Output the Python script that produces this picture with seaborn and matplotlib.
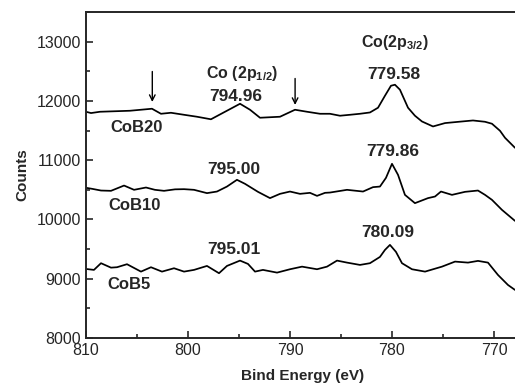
import matplotlib
matplotlib.use('Agg')
import matplotlib.pyplot as plt
from matplotlib.ticker import MultipleLocator
import numpy as np
import pandas as pd
import seaborn as sns

# datos (energia de ligadura, cuentas)
ev_cob20 = [810.0, 809.51, 808.63, 805.69, 803.53, 802.65, 801.67, 800.39, 799.12, 797.75,
            796.37, 794.90, 793.92, 792.94, 790.98, 789.51, 788.33, 787.06, 786.08, 785.10,
            784.12, 783.14, 782.16, 781.37, 780.69, 780.10, 779.71, 779.22, 778.43, 777.75,
            777.06, 775.98, 774.80, 773.14, 772.06, 770.88, 770.20, 769.41, 768.92, 767.94]
cts_cob20 = [11817, 11795, 11817, 11834, 11868, 11783, 11800, 11766, 11733, 11690,
             11817, 11952, 11851, 11716, 11733, 11851, 11817, 11783, 11783, 11750,
             11766, 11783, 11805, 11885, 12087, 12256, 12273, 12189, 11885, 11750,
             11653, 11569, 11626, 11653, 11670, 11648, 11615, 11496, 11378, 11209]

ev_cob10 = [810.0, 809.41, 808.53, 807.55, 806.27, 805.29, 804.12, 803.24, 802.35, 801.27,
            800.39, 799.41, 798.14, 797.16, 796.18, 795.20, 794.41, 793.14, 791.96, 790.98,
            790.0, 789.02, 788.04, 787.35, 786.57, 786.08, 784.41, 782.84, 781.86, 781.18,
            780.59, 780.0, 779.41, 778.73, 777.75, 776.47, 775.78, 775.20, 774.12, 772.84,
            771.57, 770.88, 770.20, 769.22, 767.94]
cts_cob10 = [10534, 10517, 10488, 10483, 10572, 10500, 10539, 10500, 10483, 10508,
             10511, 10500, 10444, 10471, 10555, 10669, 10601, 10466, 10360, 10432,
             10471, 10432, 10449, 10398, 10449, 10454, 10500, 10471, 10545, 10555,
             10702, 10939, 10753, 10415, 10275, 10360, 10387, 10471, 10415, 10466,
             10488, 10415, 10331, 10162, 9976]

ev_cob5 = [810.0, 809.22, 808.53, 807.55, 806.96, 805.98, 805.29, 804.61, 803.63, 802.55,
           801.37, 800.39, 799.41, 798.14, 796.96, 796.18, 794.90, 794.12, 793.43, 792.65,
           791.27, 790.0, 788.82, 787.35, 786.37, 785.39, 784.41, 783.14, 782.16, 781.18,
           780.69, 780.20, 779.61, 779.02, 778.04, 776.76, 775.10, 773.82, 772.55, 771.57,
           770.59, 769.61, 768.63, 767.94]
cts_cob5 = [9165, 9149, 9262, 9187, 9194, 9245, 9182, 9120, 9194, 9120,
            9177, 9120, 9149, 9216, 9093, 9216, 9306, 9250, 9120, 9149,
            9103, 9160, 9204, 9160, 9204, 9306, 9272, 9233, 9262, 9368,
            9486, 9571, 9453, 9262, 9160, 9120, 9204, 9289, 9272, 9301,
            9272, 9064, 8895, 8811]

muestras = ['CoB20', 'CoB10', 'CoB5']
pos_muestras = [(805.0, 11547), (805.2, 10230), (805.8, 8895)]
picos = ['794.96', '779.58', '795.00', '779.86', '795.01', '780.09']
pos_picos = [(795.3, 12070), (779.8, 12442), (795.5, 10838), (779.9, 11141), (795.5, 9486), (780.4, 9773)]
flechas_ev = [803.5, 789.5]
flechas_tip = [11935, 11885]
flechas_cola = [12543, 12425]

sns.set_style('ticks')
plt.rcParams['font.family'] = ['Liberation Sans', 'DejaVu Sans']
plt.rcParams['mathtext.fontset'] = 'custom'
plt.rcParams['mathtext.rm'] = 'Liberation Sans'
plt.rcParams['mathtext.bf'] = 'Liberation Sans:bold'

fig = plt.figure(figsize=(5.15, 3.89), dpi=100)
ax = fig.add_axes([86/515, 51/389, 434/515, 326/389])

for ev, cts in [(ev_cob20, cts_cob20), (ev_cob10, cts_cob10), (ev_cob5, cts_cob5)]:
    df = pd.DataFrame({'ev': ev, 'cts': cts})
    sns.lineplot(data=df, x='ev', y='cts', ax=ax, color='k', lw=1.25, sort=False)

ax.set_xlim(810, 767.45)
ax.set_ylim(8000, 13500)
ax.xaxis.set_major_locator(MultipleLocator(10))
ax.xaxis.set_minor_locator(MultipleLocator(5))
ax.yaxis.set_major_locator(MultipleLocator(1000))
ax.yaxis.set_minor_locator(MultipleLocator(500))
ax.tick_params(which='both', direction='in', width=1.2, labelsize=11.5)
ax.tick_params(which='major', length=5)
ax.tick_params(which='minor', length=3)
for s in ax.spines.values():
    s.set_linewidth(1.4)

ax.set_xlabel('Bind Energy (eV)', fontsize=11, fontweight='bold', labelpad=8)
ax.set_ylabel('Counts', fontsize=11, fontweight='bold', labelpad=5)

for t, (x, y) in zip(muestras, pos_muestras):
    ax.text(x, y, t, fontsize=12, fontweight='bold', ha='center', va='center')
for t, (x, y) in zip(picos, pos_picos):
    ax.text(x, y, t, fontsize=12.5, fontweight='bold', ha='center', va='center')

ax.text(794.7, 12459, r'Co (2p$_{\mathbf{1/2}}$)', fontsize=11.5, fontweight='bold', ha='center', va='center')
ax.text(779.7, 12983, r'Co(2p$_{\mathbf{3/2}}$)', fontsize=11.5, fontweight='bold', ha='center', va='center')

for xe, yt, yc in zip(flechas_ev, flechas_tip, flechas_cola):
    ax.annotate('', xy=(xe, yt), xytext=(xe, yc),
                arrowprops=dict(arrowstyle='->', color='k', lw=1.0))

fig.savefig('out.png', dpi=100)
